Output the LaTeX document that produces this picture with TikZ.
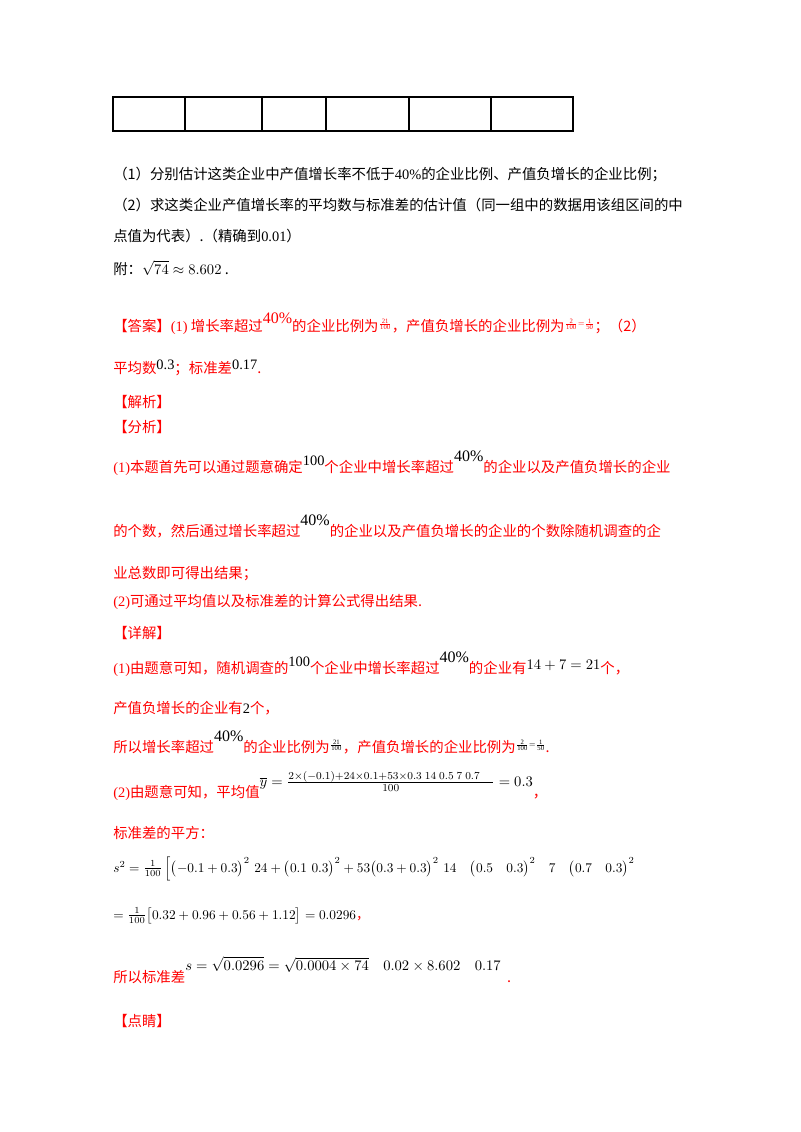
\documentclass[tikz,border=0pt]{standalone}
\usepackage{fontspec}
\setmainfont{Liberation Serif}
\newfontfamily\cjk{Noto Sans CJK SC}
\newcommand{\nm}[1]{{\rmfamily #1}}
\newcommand{\sfr}[2]{\raisebox{4pt}{\tiny$\frac{\mathrm{#1}}{\mathrm{#2}}$}}
\definecolor{rd}{HTML}{FF0000}
\begin{document}
\begin{tikzpicture}[x=0.75pt,y=-0.75pt,
  t/.style={anchor=base west,inner sep=0pt,font=\cjk\fontsize{10.8}{12}\selectfont},
  r/.style={t,text=rd}]
\useasboundingbox (0,0) rectangle (800,1132);
\draw[line width=0.8pt] (113,97) rectangle (573,131);
\foreach \x [count=\i] in {185,262,326,409,491} \draw[line width=0.8pt] (\x,97) -- (\x,131) coordinate (v\i);
\node[t] (l1) at (113,179) {（1）分别估计这类企业中产值增长率不低于\nm{40\%}的企业比例、产值负增长的企业比例；};
\node[t] (l2) at (113,210) {（2）求这类企业产值增长率的平均数与标准差的估计值（同一组中的数据用该组区间的中};
\node[t] (l3) at (113,241) {点值为代表）.（精确到\nm{0.01}）};
\node[t] (l4) at (113,274) {附：$\sqrt{74}\approx 8.602$ .};
\node[r] (a1) at (113,331) {【答案】\nm{(1)} 增长率超过\raisebox{6pt}{\nm{\large 40\%}}的企业比例为\sfr{21}{100}，产值负增长的企业比例为\sfr{2}{100}\raisebox{4pt}{\tiny$=$}\sfr{1}{50}；（2）};
\node[r] (a2) at (113,373) {平均数\raisebox{3pt}{\textcolor{black}{\nm{0.3}}}；标准差\raisebox{3pt}{\textcolor{black}{\nm{0.17}}}.};
\node[r] (b1) at (113,407) {【解析】};
\node[r] (b2) at (113,432) {【分析】};
\node[r] (c1) at (113,472) {\nm{(1)}本题首先可以通过题意确定\raisebox{5pt}{\textcolor{black}{\nm{100}}}个企业中增长率超过\raisebox{8pt}{\textcolor{black}{\nm{\large 40\%}}}的企业以及产值负增长的企业};
\node[r] (c2) at (113,536) {的个数，然后通过增长率超过\raisebox{8pt}{\textcolor{black}{\nm{\large 40\%}}}的企业以及产值负增长的企业的个数除随机调查的企};
\node[r] (c3) at (113,578) {业总数即可得出结果；};
\node[r] (c4) at (113,606) {\nm{(2)}可通过平均值以及标准差的计算公式得出结果.};
\node[r] (d1) at (113,638) {【详解】};
\node[r] (d2) at (113,673) {\nm{(1)}由题意可知，随机调查的\raisebox{5pt}{\textcolor{black}{\nm{100}}}个企业中增长率超过\raisebox{8pt}{\textcolor{black}{\nm{\large 40\%}}}的企业有\raisebox{3pt}{\textcolor{black}{$14+7=21$}}个，};
\node[r] (d3) at (113,713) {产值负增长的企业有\textcolor{black}{\nm{2}}个，};
\node[r] (d4) at (113,752) {所以增长率超过\raisebox{8pt}{\textcolor{black}{\nm{\large 40\%}}}的企业比例为\textcolor{black}{\sfr{21}{100}}，产值负增长的企业比例为\textcolor{black}{\sfr{2}{100}\raisebox{4pt}{\tiny$=$}\sfr{1}{50}}.};
\node[r] (e1) at (113,797) {\nm{(2)}由题意可知，平均值\raisebox{8pt}{\textcolor{black}{$\overline{y}=\frac{\tiny 2\times(-0.1)+24\times0.1+53\times0.3\ \ 14\ \ 0.5\ \ 7\ \ 0.7\qquad}{\tiny 100}=0.3$}}，};
\node[r] (e2) at (113,838) {标准差的平方：};
\node[anchor=base west,inner sep=0pt] (e3) at (113,872) {$s^2=\frac{1}{100}\,\Bigl[\bigl(-0.1+0.3\bigr)^2\,\,24+\bigl(0.1\,\,0.3\bigr)^2+53\bigl(0.3+0.3\bigr)^2\,\,14\quad\bigl(0.5\quad0.3\bigr)^2\quad 7\quad\bigl(0.7\quad0.3\bigr)^2$};
\node[anchor=base west,inner sep=0pt] (e4) at (113,919) {$=\frac{1}{100}\bigl[0.32+0.96+0.56+1.12\bigr]=0.0296$\textcolor{rd}{\cjk ，}};
\node[r] (e5) at (113,982) {所以标准差\raisebox{9pt}{\textcolor{black}{$s=\sqrt{0.0296}=\sqrt{0.0004\times74}\quad0.02\times8.602\quad0.17$}}\ \ .};
\node[r] (f1) at (113,1026) {【点睛】};
\end{tikzpicture}
\end{document}
